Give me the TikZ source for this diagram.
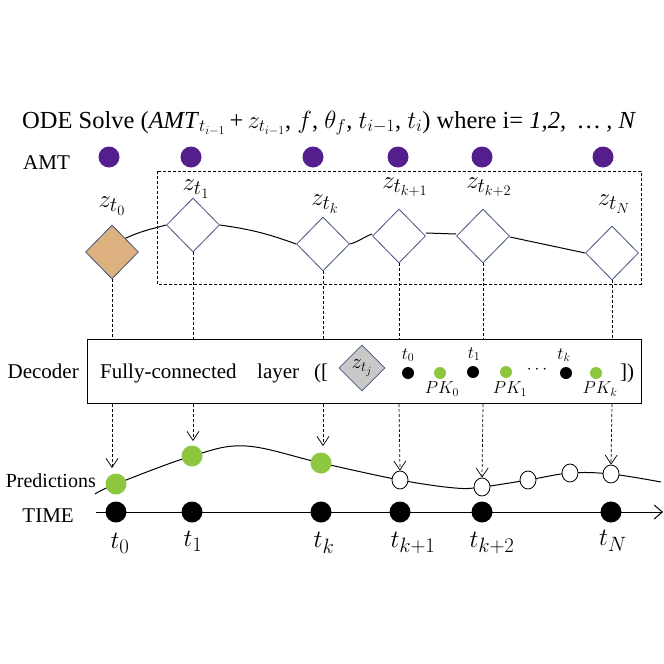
\documentclass[tikz,border=0pt]{standalone}
\usepackage{fontspec}
\setmainfont{Liberation Serif}
\usetikzlibrary{shapes.geometric,arrows.meta}
\definecolor{amtc}{RGB}{84,30,140}
\definecolor{grn}{RGB}{141,198,63}
\definecolor{orng}{RGB}{222,178,128}
\definecolor{dbl}{RGB}{68,84,130}
\definecolor{gry}{RGB}{200,200,200}
\begin{document}
\begin{tikzpicture}[x=1pt,y=-1pt,
 zd/.style={diamond,draw=dbl,fill=white,line width=0.8pt,minimum width=53pt,minimum height=54pt,inner sep=0pt},
 amt/.style={circle,fill=amtc,minimum size=21pt,inner sep=0pt},
 tdot/.style={circle,fill=black,minimum size=21pt,inner sep=0pt},
 gdot/.style={circle,fill=grn,minimum size=21pt,inner sep=0pt},
 wdot/.style={ellipse,draw=black,fill=white,line width=0.8pt,minimum width=16pt,minimum height=18pt,inner sep=0pt},
 sbdot/.style={circle,fill=black,minimum size=12pt,inner sep=0pt},
 sgdot/.style={circle,fill=grn,minimum size=12pt,inner sep=0pt},
 vdash/.style={dash pattern=on 3pt off 2pt,line width=0.7pt},
 darr/.style={vdash,-{Straight Barb[length=9pt,width=12pt]}},
 big/.style={font=\fontsize{21}{24}\selectfont,inner sep=0pt},
 zl/.style={font=\fontsize{28}{31}\selectfont,inner sep=0pt},
 tl/.style={font=\fontsize{29}{32}\selectfont,inner sep=0pt},
 sl/.style={font=\fontsize{18}{20}\selectfont,inner sep=0pt},
 chain/.style={line width=1pt}
]
\useasboundingbox (0,0) rectangle (664,664);

% title
\node[font=\fontsize{24.5}{27}\selectfont,anchor=base west,inner sep=0pt] (title) at (22,128) {ODE Solve (\textit{AMT}$_{t_{i-1}}$\,+\,$z_{t_{i-1}}$, $f$, $\theta_f$, $t_{i-1}$, $t_i$) where i= \textit{1,2,\enspace\ldots\ , N}};
\node[big,anchor=base west] (amtlab) at (23,169) {AMT};
\foreach \x/\n in {109/a0,191/a1,313/ak,398/ak1,482/ak2,603/aN}
  \node[amt] (\n) at (\x,157) {};

% latent group
\draw[vdash] (157,171) rectangle (641,284);
\node[zd,fill=orng] (z0) at (112,252) {};
\node[zd] (z1) at (193,225) {};
\node[zd] (zk) at (323,244) {};
\node[zd] (zk1) at (399,236) {};
\node[zd] (zk2) at (483,236) {};
\node[zd] (zN) at (612,253) {};
\node[zl] (lz0) at (112,206) {$z_{t_0}$};
\node[zl] (lz1) at (196,189) {$z_{t_1}$};
\node[zl] (lzk) at (325,204) {$z_{t_k}$};
\node[zl] (lzk1) at (405,187) {$z_{t_{k+1}}$};
\node[zl] (lzk2) at (489,187) {$z_{t_{k+2}}$};
\node[zl] (lzN) at (614,204) {$z_{t_N}$};
\draw[chain] (z0.north east) to[out=25,in=195] (z1.west);
\draw[chain] (z1.east) to[out=-8,in=160] (zk.west);
\draw[chain] (zk.east) to[out=15,in=200] ([yshift=2pt]zk1.west);
\draw[chain] ([yshift=3pt]zk1.east) -- ([yshift=2pt]zk2.west);
\draw[chain] ([yshift=-1pt]zk2.east) to[out=-12,in=168] (zN.west);

% decoder
\node[draw,line width=1pt,minimum width=554pt,minimum height=64pt,inner sep=0pt] (dec) at (364,371.5) {};
\node[big,anchor=base east] (declab) at (79,378) {Decoder};
\node[big,anchor=base west] (fc) at (100,378) {Fully-connected};
\node[big,anchor=base west] (fc2) at (257,378) {layer};
\node[big,anchor=base] (br1) at (321,378) {([};
\node[diamond,draw=dbl,fill=gry,line width=0.8pt,minimum width=46pt,minimum height=46pt,inner sep=0pt,font=\fontsize{21}{23}\selectfont] (gz) at (362,368) {$z_{t_j}$};
\node[sbdot] (d0) at (408,373) {};
\node[sl] (ld0) at (408,355) {$t_0$};
\node[sgdot] (p0) at (440,373) {};
\node[sl] (lp0) at (442,389) {$PK_0$};
\node[sbdot] (d1) at (473,372) {};
\node[sl] (ld1) at (474,354) {$t_1$};
\node[sgdot] (p1) at (506,372) {};
\node[sl] (lp1) at (510,389) {$PK_1$};
\node[sl] (ell) at (537,370) {$\cdots$};
\node[sbdot] (dk) at (566,373) {};
\node[sl] (ldk) at (564,355) {$t_k$};
\node[sgdot] (pk) at (596,373) {};
\node[sl] (lpk) at (600,389) {$PK_k$};
\node[big,anchor=base] (br2) at (627,378) {])};

% predictions curve
\coordinate (q0) at (116,484);
\coordinate (q1) at (192,456);
\coordinate (qk) at (321,463);
\coordinate (qk1) at (400,480);
\coordinate (qk2) at (482,487);
\coordinate (qa) at (528,480);
\coordinate (qb) at (570,473);
\coordinate (qN) at (611,474);
\draw[line width=1pt] plot[smooth,tension=0.6] coordinates {(95,494) (q0) (q1) (246,446) (qk) (qk1) (455,488) (qk2) (qa) (qb) (qN) (661,482)};
\node[gdot] (g0) at (q0) {};
\node[gdot] (g1) at (q1) {};
\node[gdot] (gk) at (qk) {};
\node[wdot] (wk1) at (qk1) {};
\node[wdot] (wk2) at (qk2) {};
\node[wdot] (wa) at (qa) {};
\node[wdot] (wb) at (qb) {};
\node[wdot] (wN) at (qN) {};
\node[font=\fontsize{20}{23}\selectfont,anchor=base east,inner sep=0pt] (predlab) at (96,487) {Predictions};

% time axis
\node[big,anchor=base east] (timelab) at (74,522) {TIME};
\coordinate (ax0) at (96,512);
\coordinate (ax1) at (663,512);
\draw[line width=1pt,-{Straight Barb[length=8pt,width=14pt]}] (ax0) -- (ax1);
\foreach \x/\n in {116/T0,192/T1,321/Tk,400/Tk1,482/Tk2,611/TN}
  \node[tdot] (\n) at (\x,512) {};
\node[tl] (lt0) at (120,543) {$t_0$};
\node[tl] (lt1) at (193,541) {$t_1$};
\node[tl] (ltk) at (324,543) {$t_k$};
\node[tl] (ltk1) at (413,543) {$t_{k+1}$};
\node[tl] (ltk2) at (492,543) {$t_{k+2}$};
\node[tl] (ltN) at (613,541) {$t_N$};

% dashed connectors
\foreach \z in {z0,z1,zk,zk1,zk2,zN}
  \draw[vdash] (\z.south) -- (\z.south |- dec.north);
\draw[darr] (z0 |- dec.south) -- (z0 |- 0,468);
\draw[darr] (z1 |- dec.south) -- (z1 |- 0,441);
\draw[darr] (zk |- dec.south) -- (zk |- 0,446);
\draw[darr] (zk1 |- dec.south) -- (wk1.north);
\draw[darr] (zk2 |- dec.south) -- (wk2.north);
\draw[darr] (zN |- dec.south) -- (wN.north);
\end{tikzpicture}
\end{document}
